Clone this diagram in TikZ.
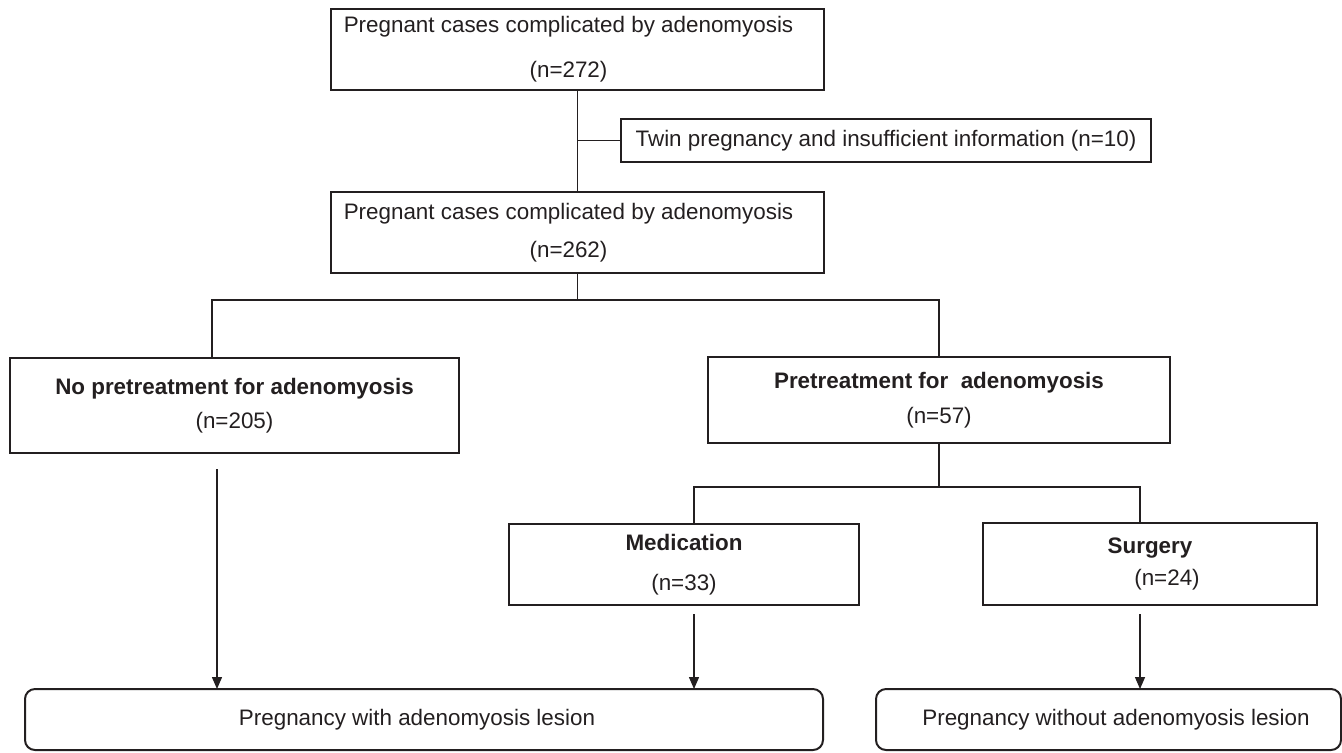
\documentclass[tikz,border=0pt]{standalone}
\usepackage{fontspec}
\setmainfont{Liberation Sans}
\usepackage{tikz}
\usetikzlibrary{arrows.meta,positioning,calc}
\usepackage{xcolor}
\definecolor{ink}{RGB}{35,31,32}
\tikzset{
  box/.style={draw=ink,line width=1pt,inner sep=0pt,outer sep=0pt,
    align=center,text=ink,font=\fontsize{11.2pt}{13.4pt}\selectfont},
  rbox/.style={box,rounded corners=5pt},
  link/.style={draw=ink,line width=0.7pt},
  arr/.style={link,-{Triangle[length=6pt,width=5pt]}},
}

\begin{document}
\begin{tikzpicture}[x=0.5pt,y=-0.5pt]
  \useasboundingbox (0,0) rectangle (1342,752);
  \node[box,minimum width=246.5pt,minimum height=40.5pt] (all) at (577.5,49.5)
    {Pregnant cases complicated by adenomyosis\hspace*{9pt}\\[9.1pt](n=272)\hspace*{9pt}};
  \node[box,minimum width=265pt,minimum height=21.5pt] (excl) at (886,140.5)
    {Twin pregnancy and insufficient information (n=10)};
  \node[box,minimum width=246.5pt,minimum height=40.5pt,below=51pt of all] (kept)
    {Pregnant cases complicated by adenomyosis\hspace*{9pt}\\[5.6pt](n=262)\hspace*{9pt}};
  \node[box,minimum width=224.5pt,minimum height=47.5pt] (nopre) at (234.5,405.5)
    {\textbf{No pretreatment for adenomyosis}\\[3.6pt](n=205)};
  \node[box,minimum width=231pt,minimum height=43pt] (pre) at (939,400)
    {\textbf{Pretreatment for\ \ adenomyosis}\\[4.1pt](n=57)};
  \node[box,minimum width=175pt,minimum height=40.5pt] (med) at (684,564.5)
    {\textbf{Medication}\\[6.6pt](n=33)};
  \node[box,minimum width=167pt,minimum height=41pt] (surg) at (1150,564)
    {\textbf{Surgery}\\[2.6pt]\hspace*{17pt}(n=24)};
  \node[rbox,minimum width=399pt,minimum height=30.5pt] (lesion) at (424,719.5)
    {Pregnancy with adenomyosis lesion\hspace*{7pt}};
  \node[rbox,minimum width=232.5pt,minimum height=30.5pt] (nolesion) at (1108.5,719.5)
    {\hspace*{7.5pt}Pregnancy without adenomyosis lesion};

  \draw[link] (all.south) -- (kept.north);
  \draw[link] (all.south |- excl.west) -- (excl.west);
  \draw[link] (kept.south) -- ++(0,27) coordinate (split);
  \coordinate (nopretop) at ($(nopre.north)+(-22.5,0)$);
  \draw[link] (nopretop) |- (split) -| (pre.north);
  \draw[link] (pre.south) -- ++(0,44) coordinate (splittwo);
  \coordinate (medtop) at ($(med.north)+(10,0)$);
  \coordinate (surgtop) at ($(surg.north)+(-10,0)$);
  \draw[link] (medtop) |- (splittwo) -| (surgtop);

  \coordinate (nopreout) at ($(nopre.south)+(-17.5,16)$);
  \coordinate (medout) at ($(med.south)+(10,9)$);
  \coordinate (surgout) at ($(surg.south)+(-10,9)$);
  \draw[arr] (nopreout) -- (nopreout |- lesion.north);
  \draw[arr] (medout) -- (medout |- lesion.north);
  \draw[arr] (surgout) -- (surgout |- nolesion.north);
\end{tikzpicture}
\end{document}
